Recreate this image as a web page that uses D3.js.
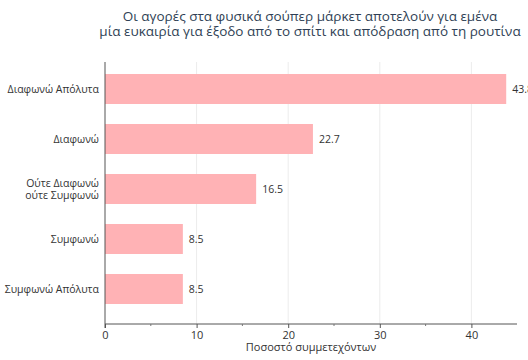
<!DOCTYPE html>
<html><head><meta charset="utf-8">
<script src="https://cdn.jsdelivr.net/npm/d3@7"></script>
<style>body{margin:0;background:#fff;} svg{display:block;font-family:"Open Sans",sans-serif;}</style>
</head><body><svg id="c" width="528" height="360"></svg>
<script>
const categories = ["Διαφωνώ Απόλυτα", "Διαφωνώ", "Ούτε Διαφωνώ|ούτε Συμφωνώ", "Συμφωνώ", "Συμφωνώ Απόλυτα"];
const values = [43.8, 22.7, 16.5, 8.5, 8.5];
const xTicks = [0, 10, 20, 30, 40];
const minorTicks = [5, 15, 25, 35];
const titleLines = ["Οι αγορές στα φυσικά σούπερ μάρκετ αποτελούν για εμένα", "μία ευκαιρία για έξοδο από το σπίτι και απόδραση από τη ρουτίνα"];
const xLabel = "Ποσοστό συμμετεχόντων";

const svg = d3.select("#c");
const mLeft = 105, mRight = 517, mTop = 62, axisY = 324;
const x = d3.scaleLinear().domain([0, 45]).range([mLeft, mLeft + 45 * 9.16]);
const y = d3.scaleBand().domain(categories).range([64, 314]).paddingInner(0.4).paddingOuter(0.2);

// gridlines
svg.append("g").selectAll("line").data(xTicks.slice(1)).join("line")
  .attr("x1", d => x(d)).attr("x2", d => x(d)).attr("y1", mTop).attr("y2", axisY)
  .attr("stroke", "#ececec").attr("stroke-width", 1);

// bars
svg.append("g").selectAll("rect").data(values).join("rect")
  .attr("x", x(0)).attr("y", (d, i) => y(categories[i]))
  .attr("width", d => x(d) - x(0)).attr("height", y.bandwidth())
  .attr("fill", "#ffb2b5");

// value labels
svg.append("g").selectAll("text").data(values).join("text")
  .attr("x", d => x(d) + 6).attr("y", (d, i) => y(categories[i]) + y.bandwidth() / 2)
  .attr("dy", "0.35em").attr("font-size", 10.5).attr("fill", "#333")
  .text(d => d.toFixed(1));

// x axis
const xAxis = d3.axisBottom(x).tickValues(xTicks).tickSize(4).tickFormat(d3.format("d"));
const gx = svg.append("g").attr("transform", `translate(0,${axisY})`).call(xAxis);
gx.select(".domain").remove();
gx.append("line").attr("x1", mLeft).attr("x2", mRight).attr("stroke", "#555");
gx.selectAll(".tick line").attr("stroke", "#555");
gx.selectAll(".tick text").attr("font-size", 11).attr("fill", "#333").attr("y", 6).attr("dy", "0.85em")
  .attr("font-family", "Open Sans, sans-serif");
gx.append("g").selectAll("line").data(minorTicks).join("line")
  .attr("x1", d => x(d)).attr("x2", d => x(d)).attr("y1", 0).attr("y2", 2).attr("stroke", "#777");

// y axis
svg.append("line").attr("x1", mLeft).attr("x2", mLeft).attr("y1", mTop).attr("y2", axisY + 4).attr("stroke", "#555");
const gy = svg.append("g");
categories.forEach(c => {
  const parts = c.split("|");
  const cy = y(c) + y.bandwidth() / 2;
  const t = gy.append("text").attr("x", mLeft - 6).attr("text-anchor", "end")
    .attr("font-size", 10.5).attr("fill", "#333");
  parts.forEach((p, i) => {
    t.append("tspan").attr("x", mLeft - 6)
      .attr("y", cy + (i - (parts.length - 1) / 2) * 12).attr("dy", "0.35em").text(p);
  });
});

// axis label
svg.append("text").attr("x", (mLeft + mRight) / 2).attr("y", 351).attr("text-anchor", "middle")
  .attr("font-size", 11).attr("fill", "#333").text(xLabel);

// title
svg.append("text").attr("x", 310).attr("text-anchor", "middle").attr("font-size", 13.5).attr("fill", "#2f3f55")
  .selectAll("tspan").data(titleLines).join("tspan")
  .attr("x", 310).attr("y", (d, i) => 21 + i * 15).text(d => d);
</script></body></html>
